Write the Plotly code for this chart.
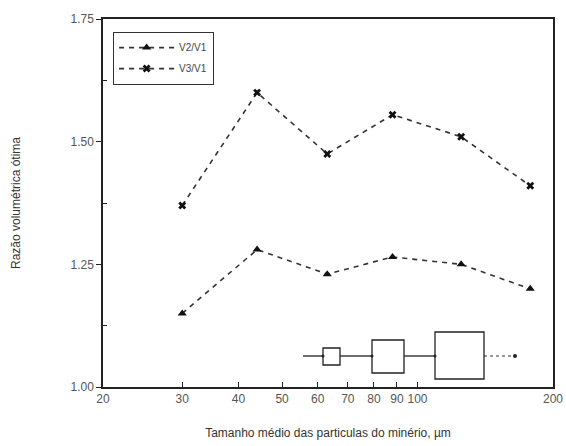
import plotly.graph_objects as go

particle_size = [30, 44, 63, 88, 125, 178]
v2_v1 = [1.15, 1.28, 1.23, 1.265, 1.25, 1.20]
v3_v1 = [1.37, 1.60, 1.475, 1.555, 1.51, 1.41]
x_ticks = [20, 30, 40, 50, 60, 70, 80, 90, 100, 200]
y_ticks = [1.00, 1.25, 1.50, 1.75]

fig = go.Figure()
fig.add_trace(go.Scatter(
    x=particle_size, y=v2_v1, name="V2/V1", mode="lines+markers", legendgroup="a",
    line=dict(color="#333", width=1.6, dash="5px,5px"),
    marker=dict(symbol="triangle-up", size=8, color="#111")))
fig.add_trace(go.Scatter(
    x=particle_size, y=v3_v1, name="V3/V1", mode="lines+markers", legendgroup="b",
    line=dict(color="#333", width=1.6, dash="5px,5px"),
    marker=dict(symbol="x", size=7, color="#111")))

# inset schematic (decorative)
def box(x0, x1, y0, y1):
    fig.add_shape(type="rect", xref="x domain", yref="y domain",
                  x0=x0, x1=x1, y0=y0, y1=y1,
                  line=dict(color="#222", width=1.3), fillcolor="white")

def seg(x0, x1, y, dash="solid", color="#222"):
    fig.add_shape(type="line", xref="x domain", yref="y domain",
                  x0=x0, x1=x1, y0=y, y1=y,
                  line=dict(color=color, width=1.3, dash=dash))

W, H = 450.0, 368.0
def dx(px): return (px - 103) / W
def dy(py): return (387 - py) / H
yc = dy(356)
seg(dx(303), dx(323), yc)
seg(dx(340), dx(372), yc)
seg(dx(404), dx(435), yc)
seg(dx(484), dx(513), yc, dash="dot", color="#777")
box(dx(323), dx(340), dy(365), dy(348))
box(dx(372), dx(404), dy(373), dy(340))
box(dx(435), dx(484), dy(379), dy(332))
for px in (323, 372, 435):
    fig.add_shape(type="circle", xref="x domain", yref="y domain",
                  x0=dx(px - 1.5), x1=dx(px + 1.5), y0=yc - 1.5 / H, y1=yc + 1.5 / H,
                  fillcolor="#222", line=dict(width=0))
fig.add_shape(type="circle", xref="x domain", yref="y domain",
              x0=dx(513), x1=dx(517), y0=yc - 2 / H, y1=yc + 2 / H,
              fillcolor="#222", line=dict(width=0))

fig.update_layout(
    width=566, height=446,
    margin=dict(l=103, r=13, t=19, b=59),
    paper_bgcolor="white", plot_bgcolor="white",
    font=dict(family="Liberation Sans, Arial, sans-serif", size=12, color="#444"),
    showlegend=True,
    legend=dict(x=0.022, y=0.965, xanchor="left", yanchor="top",
                bordercolor="#333", borderwidth=1.2, bgcolor="white",
                font=dict(size=10, color="#444"), tracegroupgap=2,
                itemwidth=55),
)
fig.update_xaxes(
    type="log", range=[1.30103, 2.30103],
    tickvals=x_ticks, ticktext=[str(v) for v in x_ticks],
    ticks="inside", ticklen=5, tickcolor="#222", ticklabeloverflow="allow",
    showline=True, linecolor="#222", linewidth=1.5, mirror=True,
    showgrid=False, zeroline=False, automargin=False,
    title=dict(text="Tamanho médio das particulas do minério, µm", standoff=23,
               font=dict(size=12, color="#333")),
    tickfont=dict(size=12, color="#555"))
fig.update_yaxes(
    range=[1.0, 1.75],
    tickvals=y_ticks, ticktext=["%.2f" % v for v in y_ticks],
    ticks="outside", ticklen=5, tickcolor="#222",
    minor=dict(tickvals=[1.125, 1.375, 1.625], ticks="inside", ticklen=4, tickcolor="#222"),
    showline=True, linecolor="#222", linewidth=1.5, mirror=True,
    showgrid=False, zeroline=False, automargin=False,
    title=dict(text="Razão volumétrica ótima", standoff=47,
               font=dict(size=12, color="#333")),
    tickfont=dict(size=12, color="#555"))

fig.write_html(
    "out.html",
    config={"displayModeBar": False},
    post_script="document.body.style.margin='0';document.body.style.overflow='hidden';",
)
